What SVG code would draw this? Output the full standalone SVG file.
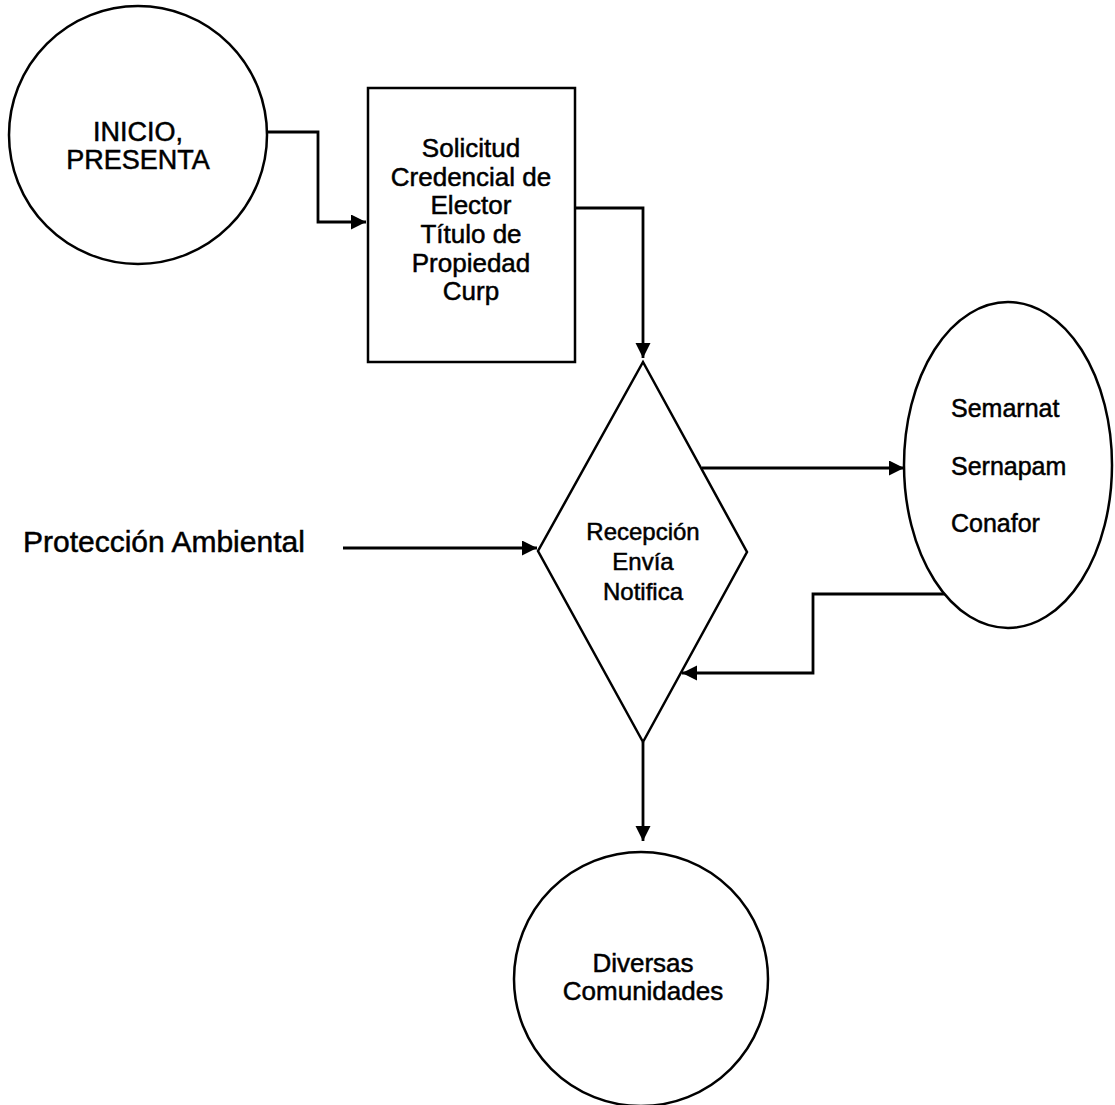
<svg xmlns="http://www.w3.org/2000/svg" width="1115" height="1105" viewBox="0 0 1115 1105">
  <style>
    .shape { fill: #fff; stroke: #000; stroke-width: 2.5; }
    .conn { fill: none; stroke: #000; stroke-width: 2.8; }
    .lbl { font-family: "Liberation Sans", Arial, sans-serif; font-size: 26px; fill: #000; stroke: #000; stroke-width: 0.5; text-anchor: middle; }
    .lbl-l { font-family: "Liberation Sans", Arial, sans-serif; font-size: 26px; fill: #000; stroke: #000; stroke-width: 0.5; }
    .big { font-size: 30px; }
    .mid { font-size: 27px; }
    .dec { font-size: 24px; }
    .ag { font-size: 25px; }
  </style>
  <defs>
    <marker id="arrow" markerUnits="userSpaceOnUse" markerWidth="16" markerHeight="16" refX="15" refY="7.5" orient="auto">
      <path d="M0,0 L15,7.5 L0,15 z" fill="#000"/>
    </marker>
  </defs>
  <rect width="1115" height="1105" fill="#fff"/>

  <!-- connectors -->
  <g id="connectors">
    <path class="conn" d="M268,132 H318 V222 H366" marker-end="url(#arrow)"/>
    <path class="conn" d="M575,208 H643 V358" marker-end="url(#arrow)"/>
    <path class="conn" d="M343,548 H537" marker-end="url(#arrow)"/>
    <path class="conn" d="M702,468 H904" marker-end="url(#arrow)"/>
    <path class="conn" d="M947,594 H813 V673 H682" marker-end="url(#arrow)"/>
    <path class="conn" d="M643,742 V841" marker-end="url(#arrow)"/>
  </g>

  <!-- start node -->
  <g id="inicio">
    <circle class="shape" cx="138" cy="135" r="129"/>
    <text class="lbl mid" x="138" y="141">INICIO,</text>
    <text class="lbl mid" x="138" y="169">PRESENTA</text>
  </g>

  <!-- documents box -->
  <g id="solicitud">
    <rect class="shape" x="368" y="88" width="207" height="274"/>
    <text class="lbl" x="471" y="157">Solicitud</text>
    <text class="lbl" x="471" y="186">Credencial de</text>
    <text class="lbl" x="471" y="214">Elector</text>
    <text class="lbl" x="471" y="243">Título de</text>
    <text class="lbl" x="471" y="272">Propiedad</text>
    <text class="lbl" x="471" y="300">Curp</text>
  </g>

  <!-- side input label -->
  <g id="proteccion">
    <text class="lbl-l big" x="23" y="552">Protección Ambiental</text>
  </g>

  <!-- decision -->
  <g id="recepcion">
    <polygon class="shape" points="643,362 747,552 643,742 538,551"/>
    <text class="lbl dec" x="643" y="540">Recepción</text>
    <text class="lbl dec" x="643" y="570">Envía</text>
    <text class="lbl dec" x="643" y="600">Notifica</text>
  </g>

  <!-- agencies -->
  <g id="dependencias">
    <ellipse class="shape" cx="1008" cy="465" rx="104" ry="163"/>
    <text class="lbl-l ag" x="951" y="417">Semarnat</text>
    <text class="lbl-l ag" x="951" y="475">Sernapam</text>
    <text class="lbl-l ag" x="951" y="532">Conafor</text>
  </g>

  <!-- end node -->
  <g id="comunidades">
    <circle class="shape" cx="641" cy="979" r="127"/>
    <text class="lbl" x="643" y="972">Diversas</text>
    <text class="lbl" x="643" y="1000">Comunidades</text>
  </g>
</svg>
